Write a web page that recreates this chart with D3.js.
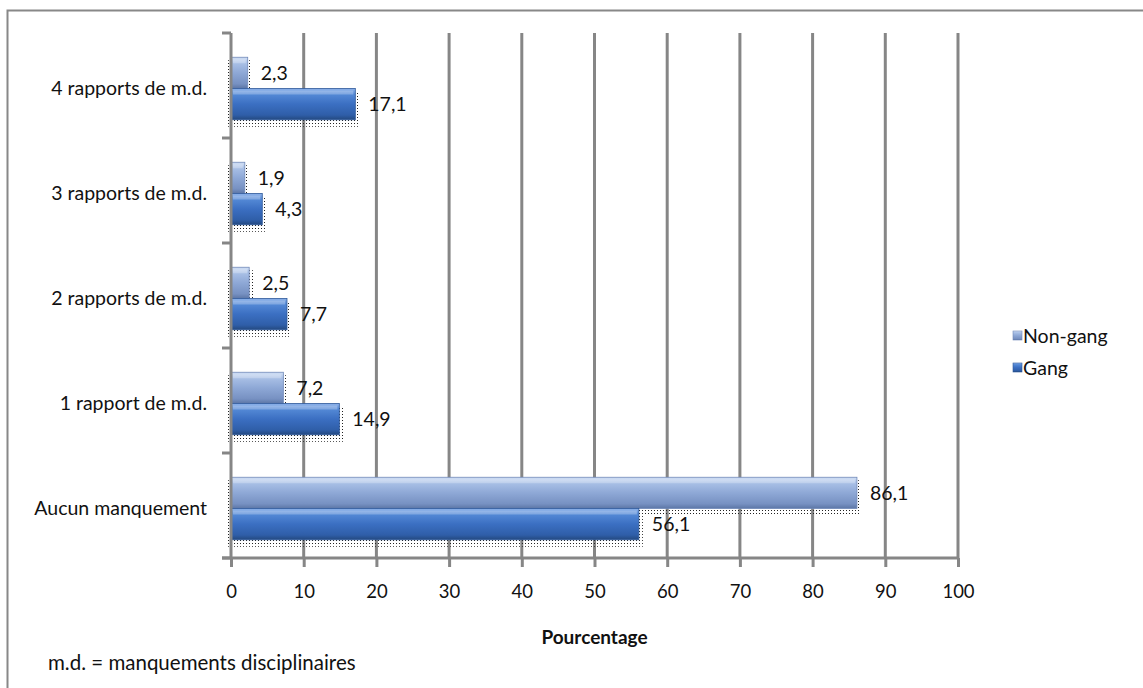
<!DOCTYPE html>
<html>
<head>
<meta charset="utf-8">
<script src="https://cdn.jsdelivr.net/npm/d3@7"></script>
<style>
  html, body { margin: 0; padding: 0; background: #fff; }
  svg { display: block; font-family: Lato, "Open Sans", sans-serif; }
</style>
</head>
<body>
<svg id="chart" width="1143" height="688"></svg>
<script>
// Categories, top to bottom
const categories = ["4 rapports de m.d.", "3 rapports de m.d.", "2 rapports de m.d.", "1 rapport de m.d.", "Aucun manquement"];
const seriesNames = ["Non-gang", "Gang"];
const nonGang = [2.3, 1.9, 2.5, 7.2, 86.1];
const gang = [17.1, 4.3, 7.7, 14.9, 56.1];
const xTicks = [0, 10, 20, 30, 40, 50, 60, 70, 80, 90, 100];

const FS = 19.5;
const svg = d3.select("#chart");
const defs = svg.append("defs");

// Bevel-like vertical gradients for the two series
function grad(id, stops) {
  const g = defs.append("linearGradient").attr("id", id)
    .attr("x1", 0).attr("y1", 0).attr("x2", 0).attr("y2", 1);
  stops.forEach(s => g.append("stop").attr("offset", s[0]).attr("stop-color", s[1]));
}
grad("gNon", [[0, "#d2e0f5"], [0.18, "#a9c0e6"], [0.5, "#8ea8d6"], [0.85, "#7791c2"], [1, "#5c76a6"]]);
grad("gGang", [[0, "#8fb3ea"], [0.18, "#5489d6"], [0.5, "#3b6fc2"], [0.85, "#2f5ea8"], [1, "#24497f"]]);

// Dotted shadow pattern
const pat = defs.append("pattern").attr("id", "dots")
  .attr("width", 3).attr("height", 3).attr("patternUnits", "userSpaceOnUse");
pat.append("rect").attr("width", 1).attr("height", 1).attr("fill", "#222");

// Outer frame
svg.append("rect").attr("x", 7.5).attr("y", 10.5).attr("width", 1150).attr("height", 700)
  .attr("fill", "none").attr("stroke", "#888").attr("stroke-width", 2);

const plotLeft = 231, plotRight = 958, plotTop = 33, plotBottom = 558;

const x = d3.scaleLinear().domain([0, 100]).range([plotLeft, plotRight]);
const y = d3.scaleBand().domain(categories).range([plotTop, plotBottom]);
const inner = d3.scaleBand().domain(seriesNames).range([3, y.bandwidth() + 3]).paddingOuter(0.68).paddingInner(0);

// Vertical gridlines
svg.append("g").selectAll("line").data(xTicks.slice(1)).join("line")
  .attr("x1", d => x(d)).attr("x2", d => x(d))
  .attr("y1", plotTop).attr("y2", plotBottom)
  .attr("stroke", "#868686").attr("stroke-width", 3);

// Bars
const rows = categories.map((c, i) => ({ c, vals: [nonGang[i], gang[i]] }));
const gBars = svg.append("g");
rows.forEach(r => {
  r.vals.forEach((v, j) => {
    const s = seriesNames[j];
    const y0 = y(r.c) + inner(s);
    const h = inner.bandwidth();
    // shadow
    gBars.append("rect")
      .attr("x", x(0) - 3).attr("y", y0 + 3)
      .attr("width", x(v) - x(0) + 7).attr("height", h + 4)
      .attr("fill", "url(#dots)");
    gBars.append("rect")
      .attr("x", x(0)).attr("y", y0)
      .attr("width", x(v) - x(0)).attr("height", h)
      .attr("fill", j === 0 ? "url(#gNon)" : "url(#gGang)")
      .attr("stroke", j === 0 ? "#6f88b8" : "#2d589a").attr("stroke-width", 0.8);
    // top highlight
    gBars.append("rect")
      .attr("x", x(0) + 2).attr("y", y0 + 2)
      .attr("width", Math.max(0, x(v) - x(0) - 4)).attr("height", 4)
      .attr("fill", "#fff").attr("opacity", 0.25);
    gBars.append("text")
      .attr("x", x(v) + 13).attr("y", y0 + h / 2)
      .attr("dy", "0.35em").attr("font-size", FS).attr("fill", "#111")
      .text(String(v).replace(".", ","));
  });
});

// Y axis (left)
const yAxis = svg.append("g").attr("transform", `translate(${plotLeft},0)`);
yAxis.append("line").attr("x1", 0).attr("x2", 0).attr("y1", plotTop).attr("y2", plotBottom)
  .attr("stroke", "#868686").attr("stroke-width", 3);
yAxis.selectAll("line.tk").data(d3.range(categories.length + 1)).join("line")
  .attr("class", "tk")
  .attr("x1", -9).attr("x2", 0)
  .attr("y1", i => plotTop + i * y.step()).attr("y2", i => plotTop + i * y.step())
  .attr("stroke", "#868686").attr("stroke-width", 3);
yAxis.selectAll("text").data(categories).join("text")
  .attr("x", -24).attr("y", d => y(d) + y.bandwidth() / 2 + 3)
  .attr("dy", "0.35em").attr("text-anchor", "end")
  .attr("font-size", FS).attr("fill", "#111").text(d => d);

// X axis (bottom)
const xAxis = svg.append("g").attr("transform", `translate(0,${plotBottom})`)
  .call(d3.axisBottom(x).tickValues(xTicks).tickSize(9).tickPadding(18));
xAxis.select(".domain").attr("stroke", "#868686").attr("stroke-width", 3)
  .attr("d", `M${plotLeft - 9},0H${plotRight}`);
xAxis.selectAll(".tick line").attr("stroke", "#868686").attr("stroke-width", 3);
xAxis.selectAll(".tick text").attr("font-size", 18.5).attr("fill", "#111")
  .attr("font-family", "Lato, 'Open Sans', sans-serif");

// Axis title
svg.append("text").attr("x", (plotLeft + plotRight) / 2).attr("y", 644)
  .attr("text-anchor", "middle").attr("font-size", 19).attr("font-weight", "bold")
  .attr("fill", "#111").text("Pourcentage");

// Footnote
svg.append("text").attr("x", 48).attr("y", 670)
  .attr("font-size", 20.5).attr("fill", "#111").text("m.d. = manquements disciplinaires");

// Legend
const legend = svg.append("g");
seriesNames.forEach((s, i) => {
  const ly = 336 + i * 32;
  legend.append("rect").attr("x", 1013).attr("y", ly - 5).attr("width", 9).attr("height", 9)
    .attr("fill", i === 0 ? "url(#gNon)" : "url(#gGang)")
    .attr("stroke", i === 0 ? "#6f88b8" : "#2d589a").attr("stroke-width", 0.6);
  legend.append("text").attr("x", 1023).attr("y", ly).attr("dy", "0.35em")
    .attr("font-size", FS).attr("fill", "#111").text(s);
});
</script>
</body>
</html>
